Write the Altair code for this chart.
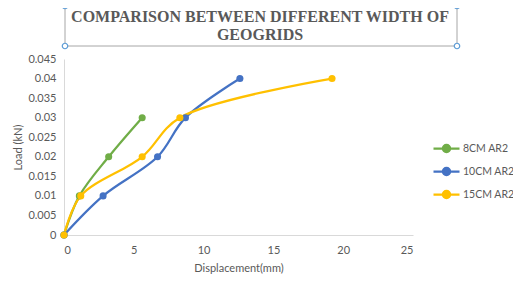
import altair as alt
import pandas as pd

series = ["8CM AR2", "10CM AR2", "15CM AR2"]
colors = ["#70AD47", "#4472C4", "#FFC000"]
title_lines = ["COMPARISON BETWEEN DIFFERENT WIDTH OF", "GEOGRIDS"]

disp_8 = [0, 1.1, 3.2, 5.6]
load_8 = [0, 0.01, 0.02, 0.03]
disp_10 = [0, 2.8, 6.7, 8.7, 12.6]
load_10 = [0, 0.01, 0.02, 0.03, 0.04]
disp_15 = [0, 1.2, 5.6, 8.3, 19.2]
load_15 = [0, 0.01, 0.02, 0.03, 0.04]

rows = []
for name, xs, ys in [(series[0], disp_8, load_8), (series[1], disp_10, load_10), (series[2], disp_15, load_15)]:
    for i, (x, y) in enumerate(zip(xs, ys)):
        rows.append({"series": name, "disp": x, "load": y, "order": i})
df = pd.DataFrame(rows)

FONT = "Lato"
GRAY = "#595959"

color = alt.Color(
    "series:N",
    scale=alt.Scale(domain=series, range=colors),
    legend=alt.Legend(
        title=None,
        orient="none",
        legendX=368,
        legendY=75,
        symbolType="M-1,0L-0.28,0M0.28,0L1,0M-0.28,0A0.28,0.28 0 1,0 0.28,0A0.28,0.28 0 1,0 -0.28,0",
        symbolSize=676,
        symbolStrokeWidth=2.25,
        labelFont=FONT,
        labelFontSize=10.5,
        labelColor=GRAY,
        rowPadding=-4.5,
        labelOffset=2,
    ),
)

x = alt.X(
    "disp:Q",
    title="Displacement(mm)",
    scale=alt.Scale(domain=[0, 25], nice=False),
    axis=alt.Axis(values=[0, 5, 10, 15, 20, 25], grid=False, ticks=False,
                  domainColor="#D9D9D9", labelPadding=9, titlePadding=7),
)
y = alt.Y(
    "load:Q",
    title="Load (kN)",
    scale=alt.Scale(domain=[0, 0.045], nice=False),
    axis=alt.Axis(values=[0, 0.005, 0.01, 0.015, 0.02, 0.025, 0.03, 0.035, 0.04, 0.045],
                  format="~g", grid=False, ticks=False, domainColor="#D9D9D9",
                  labelPadding=8, titlePadding=4),
)

base = alt.Chart(df)
lines = base.mark_line(interpolate="catmull-rom", strokeWidth=2.25).encode(
    x=x, y=y, color=color, order="order:Q"
)
points = base.mark_point(filled=True, size=50, opacity=1).encode(
    x=x, y=y, color=alt.Color("series:N", scale=alt.Scale(domain=series, range=colors), legend=None)
)

box = alt.Chart(pd.DataFrame({"a": [0]})).mark_rect(
    fill=None, stroke="#A6A6A6", strokeWidth=1
).encode(x=alt.value(1), x2=alt.value(393), y=alt.value(-53), y2=alt.value(-13))

handles_df = pd.DataFrame({"hx": [1, 393, 1, 393], "hy": [-53, -53, -13, -13]})
handles = alt.Chart(handles_df).mark_point(
    shape="circle", size=30, fill="white", stroke="#5B9BD5", strokeWidth=1.2, opacity=1, clip=False
).encode(x=alt.X("hx:Q", scale=None), y=alt.Y("hy:Q", scale=None))

title_df = pd.DataFrame({"t": title_lines, "ty": [-42, -24]})
title = alt.Chart(title_df).mark_text(
    font="Liberation Serif", fontSize=16, fontWeight="bold", color=GRAY,
    align="center", baseline="middle"
).encode(text="t:N", x=alt.value(196), y=alt.Y("ty:Q", scale=None))

chart = alt.layer(lines, points, box, handles, title).properties(
    width=349,
    height=176,
    autosize=alt.AutoSizeParams(type="none"),
    padding={"left": 56, "top": 51, "right": 100, "bottom": 40},
).configure_view(stroke=None).configure_axis(
    labelFont=FONT, labelFontSize=11, labelColor=GRAY,
    titleFont=FONT, titleFontSize=11, titleColor=GRAY, titleFontWeight="normal",
)

chart.save("out.html", embed_options={"renderer": "svg", "actions": False})
